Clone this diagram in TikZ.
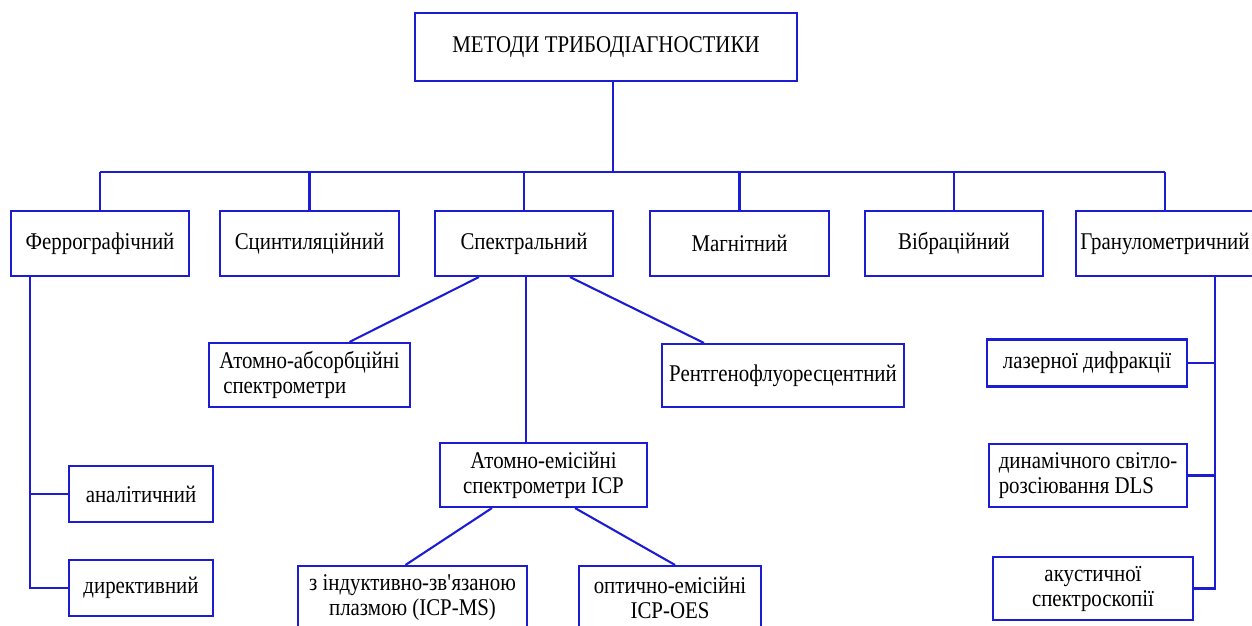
\documentclass[tikz,border=0pt]{standalone}
\usepackage{fontspec}
\setmainfont{Liberation Serif}[FakeStretch=0.87]
\usepackage{tikz}
\usetikzlibrary{calc}
\definecolor{linkblue}{RGB}{28,28,210}
\tikzset{
  method/.style={draw=linkblue,line width=2.1pt,inner sep=2pt,align=center,
    font=\fontsize{24}{25}\selectfont},
  link/.style={linkblue,line width=2.1pt}
}

\begin{document}
\begin{tikzpicture}[x=1pt,y=-1pt]
  \useasboundingbox (0,0) rectangle (1252,626);
  \node[method,minimum width=382pt,minimum height=68pt] (root) at (606,47) {МЕТОДИ ТРИБОДІАГНОСТИКИ};
  % first level
  \node[method,minimum width=178pt,minimum height=65pt] (ferro)  at (100,243.5)  {Феррографічний};
  \node[method,minimum width=179pt,minimum height=65pt] (scint)  at (309.5,243.5) {Сцинтиляційний};
  \node[method,minimum width=178pt,minimum height=65pt] (spectr) at (524,243.5)  {Спектральний};
  \node[method,minimum width=179pt,minimum height=65pt] (magn)   at (739.5,243.5) {Магнітний};
  \node[method,minimum width=178pt,minimum height=65pt] (vibr)   at (954,243.5)  {Вібраційний};
  \node[method,minimum width=178pt,minimum height=65pt] (granul) at (1165,243.5) {Гранулометричний};
  % spectral branch
  \node[method,align=left,minimum width=201pt,minimum height=64pt] (atabs) at (309.5,375) {Атомно-абсорбційні\\ \,спектрометри};
  \node[method,minimum width=242pt,minimum height=63pt] (rentg)  at (783,375.5) {Рентгенофлуоресцентний};
  \node[method,minimum width=207pt,minimum height=64pt] (atem)   at (543.5,475) {Атомно-емісійні\\спектрометри ICP};
  \node[method,minimum width=229pt,minimum height=64pt] (icpms)  at (412.5,598) {з індуктивно-зв\textquotesingle язаною\\плазмою (ICP-MS)};
  \node[method,minimum width=182pt,minimum height=64pt] (icpoes) at (670,598) {оптично-емісійні\\ICP-OES};
  % ferrographic branch
  \node[method,minimum width=144pt,minimum height=56pt] (anal) at (141,494) {аналітичний};
  \node[method,minimum width=144pt,minimum height=56pt] (dir)  at (141,588) {директивний};
  % granulometric branch
  \node[method,minimum width=200pt,minimum height=47pt] (laser)  at (1087,363) {лазерної дифракції};
  \node[method,align=left,minimum width=198pt,minimum height=63pt] (dls) at (1088,475.5) {динамічного світло-\\розсіювання DLS};
  \node[method,minimum width=200pt,minimum height=63pt] (acoust) at (1093,588.5) {акустичної\\спектроскопії};

  \coordinate (bus) at (606,172);
  \draw[link] ([xshift=7pt]root.south) -- ([xshift=7pt]root.south |- bus);
  \draw[link] (ferro.north |- bus) -- (granul.north |- bus);
  \foreach \n in {ferro,scint,spectr,magn,vibr,granul}
    \draw[link] (\n.north) -- (\n.north |- bus);

  \coordinate (ftop) at ([xshift=20pt]ferro.south west);
  \draw[link] (ftop) |- (dir.west);
  \draw[link] (ftop |- anal.west) -- (anal.west);

  \draw[link] ([xshift=45pt]spectr.south west) -- ([xshift=40pt]atabs.north);
  \draw[link] ([xshift=-44pt]spectr.south east) -- ([xshift=43pt]rentg.north west);
  \draw[link] ([xshift=2pt]spectr.south) -- ([xshift=2pt]spectr.south |- atem.north);
  \draw[link] ([xshift=53pt]atem.south west) -- ([xshift=-7pt]icpms.north);
  \draw[link] ([xshift=-73pt]atem.south east) -- ([xshift=5pt]icpoes.north);

  \coordinate (gtop) at ([xshift=50pt]granul.south);
  \draw[link] (gtop) |- (acoust.east);
  \draw[link] (laser.east) -- (laser.east -| gtop);
  \draw[link] (dls.east) -- (dls.east -| gtop);
\end{tikzpicture}
\end{document}
